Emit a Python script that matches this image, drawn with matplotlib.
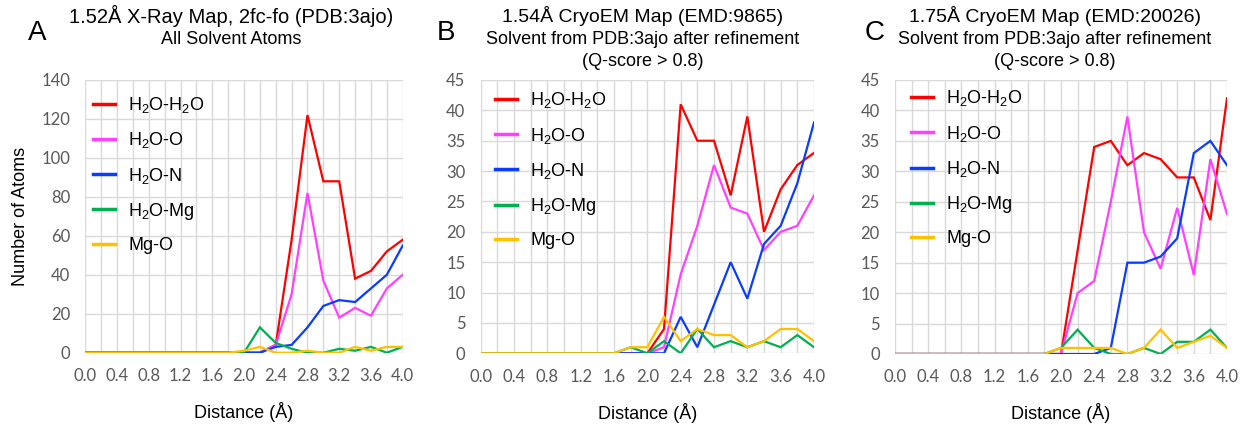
import matplotlib
matplotlib.use("Agg")
import matplotlib.pyplot as plt

# ---------------- data ----------------
distances = [0.0, 0.2, 0.4, 0.6, 0.8, 1.0, 1.2, 1.4, 1.6, 1.8, 2.0,
             2.2, 2.4, 2.6, 2.8, 3.0, 3.2, 3.4, 3.6, 3.8, 4.0]
series_names = ["H$_\\mathregular{2}$O-H$_\\mathregular{2}$O", "H$_\\mathregular{2}$O-O",
                "H$_\\mathregular{2}$O-N", "H$_\\mathregular{2}$O-Mg", "Mg-O"]
series_colors = ["#FF0000", "#FF40FF", "#0A3CFF", "#00B050", "#FFC000"]

# Panel A: 1.52 A X-ray map
a_h2o_h2o = [0, 0, 0, 0, 0, 0, 0, 0, 0, 0, 0, 0, 4, 58, 122, 88, 88, 38, 42, 52, 58]
a_h2o_o   = [0, 0, 0, 0, 0, 0, 0, 0, 0, 0, 0, 0, 4, 30, 82, 37, 18, 23, 19, 33, 40]
a_h2o_n   = [0, 0, 0, 0, 0, 0, 0, 0, 0, 0, 0, 0, 3, 4, 13, 24, 27, 26, 33, 40, 55]
a_h2o_mg  = [0, 0, 0, 0, 0, 0, 0, 0, 0, 0, 0, 13, 5, 2, 0, 0, 2, 1, 3, 0, 3]
a_mg_o    = [0, 0, 0, 0, 0, 0, 0, 0, 0, 0, 1, 3, 0, 0, 1, 0, 0, 3, 1, 3, 3]

# Panel B: 1.54 A CryoEM map
b_h2o_h2o = [0, 0, 0, 0, 0, 0, 0, 0, 0, 0, 0, 4, 41, 35, 35, 26, 39, 20, 27, 31, 33]
b_h2o_o   = [0, 0, 0, 0, 0, 0, 0, 0, 0, 0, 0, 1, 13, 21, 31, 24, 23, 17, 20, 21, 26]
b_h2o_n   = [0, 0, 0, 0, 0, 0, 0, 0, 0, 0, 0, 0, 6, 1, 8, 15, 9, 18, 21, 28, 38]
b_h2o_mg  = [0, 0, 0, 0, 0, 0, 0, 0, 0, 1, 0, 2, 0, 4, 1, 2, 1, 2, 1, 3, 1]
b_mg_o    = [0, 0, 0, 0, 0, 0, 0, 0, 0, 1, 1, 6, 2, 4, 3, 3, 1, 2, 4, 4, 2]

# Panel C: 1.75 A CryoEM map
c_h2o_h2o = [0, 0, 0, 0, 0, 0, 0, 0, 0, 0, 0, 17, 34, 35, 31, 33, 32, 29, 29, 22, 42]
c_h2o_o   = [0, 0, 0, 0, 0, 0, 0, 0, 0, 0, 0, 10, 12, 25, 39, 20, 14, 24, 13, 32, 23]
c_h2o_n   = [0, 0, 0, 0, 0, 0, 0, 0, 0, 0, 0, 0, 0, 1, 15, 15, 16, 19, 33, 35, 31]
c_h2o_mg  = [0, 0, 0, 0, 0, 0, 0, 0, 0, 0, 1, 4, 1, 0, 0, 1, 0, 2, 2, 4, 1]
c_mg_o    = [0, 0, 0, 0, 0, 0, 0, 0, 0, 0, 1, 1, 1, 1, 0, 1, 4, 1, 2, 3, 1]

panel_letters = ["A", "B", "C"]
panel_titles = [
    ["1.52Å X-Ray Map, 2fc-fo (PDB:3ajo)", "All Solvent Atoms"],
    ["1.54Å CryoEM Map (EMD:9865)", "Solvent from PDB:3ajo after refinement", "(Q-score > 0.8)"],
    ["1.75Å CryoEM Map (EMD:20026)", "Solvent from PDB:3ajo after refinement", "(Q-score > 0.8)"],
]
y_max = [140, 45, 45]
y_step = [20, 5, 5]
x_tick_labels = ["0.0", "", "0.4", "", "0.8", "", "1.2", "", "1.6", "", "2.0",
                 "", "2.4", "", "2.8", "", "3.2", "", "3.6", "", "4.0"]

panels = [
    [a_h2o_h2o, a_h2o_o, a_h2o_n, a_h2o_mg, a_mg_o],
    [b_h2o_h2o, b_h2o_o, b_h2o_n, b_h2o_mg, b_mg_o],
    [c_h2o_h2o, c_h2o_o, c_h2o_n, c_h2o_mg, c_mg_o],
]

# ---------------- layout ----------------
W, H = 1244, 425
fig = plt.figure(figsize=(W / 100, H / 100), dpi=100)
sans = ["Liberation Sans", "DejaVu Sans"]
tickfont = ["Lato", "DejaVu Sans"]

# axes boxes in pixels: left, right, top, bottom
boxes = [(85.3, 402.7, 80, 352.7), (480.7, 814, 80, 353.3), (895, 1227, 80, 354)]
legend_anchor = [(0.024, 0.944), (0.043, 0.962), (0.048, 0.969)]
title_x = [231, 643, 1055]
title_size = [14.5, 14, 14]
letter_pos = [(37, 33), (446, 33), (875, 33)]

grid_color = "#D9D9D9"
for i, (l, r, t, b) in enumerate(boxes):
    ax = fig.add_axes([l / W, 1 - b / H, (r - l) / W, (b - t) / H])
    for vals, name, col in zip(panels[i], series_names, series_colors):
        ax.plot(distances, vals, color=col, lw=1.6, label=name, solid_joinstyle="miter")
    ax.set_xlim(0, 4.0)
    ax.set_ylim(0, y_max[i])
    ax.set_xticks(distances)
    ax.set_xticklabels(x_tick_labels)
    ax.set_yticks(range(0, y_max[i] + 1, y_step[i]))
    ax.grid(True, color=grid_color, lw=1.0)
    ax.set_axisbelow(True)
    for s in ax.spines.values():
        s.set_visible(False)
    ax.tick_params(length=0, labelsize=12, labelcolor="#595959", pad=11)
    for lab in ax.get_xticklabels() + ax.get_yticklabels():
        lab.set_fontfamily(tickfont)
    ax.set_xlabel("Distance (Å)", fontsize=13, family=sans, labelpad=13)
    if i == 0:
        ax.set_ylabel("Number of Atoms", fontsize=13, family=sans, labelpad=9)
    leg = ax.legend(loc="upper left", bbox_to_anchor=legend_anchor[i], frameon=False,
                    prop={"family": sans, "size": 13}, handlelength=1.2,
                    handletextpad=0.75, labelspacing=0.84, borderpad=0, borderaxespad=0)
    for h in leg.get_lines():
        h.set_linewidth(2.5)

    # titles
    lines = panel_titles[i]
    fig.text(title_x[i] / W, 1 - 16 / H, lines[0], ha="center", va="center",
             fontsize=title_size[i], family=sans)
    for j, ln in enumerate(lines[1:]):
        fig.text(title_x[i] / W, 1 - (40 + 21 * j) / H, ln, ha="center", va="center",
                 fontsize=13, family=sans)
    fig.text(letter_pos[i][0] / W, 1 - letter_pos[i][1] / H, panel_letters[i],
             ha="center", va="center", fontsize=20, family=sans)

fig.savefig("out.png", dpi=100)
